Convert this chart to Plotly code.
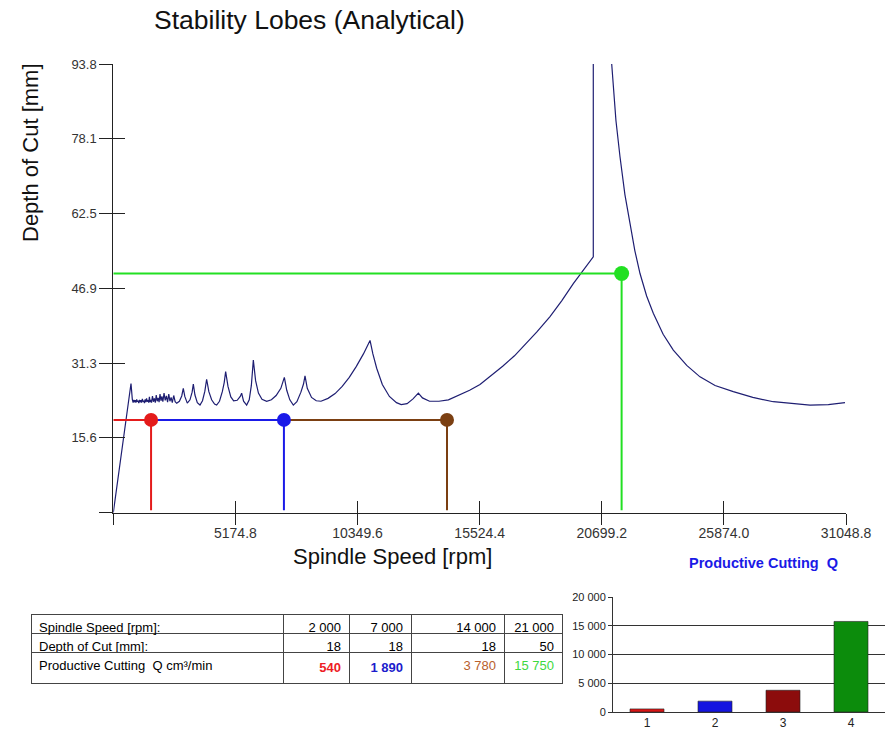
import plotly.graph_objects as go

# ---------------- data ----------------
# stability lobe boundary: spindle speed [rpm] / limiting depth of cut [mm]
lobe_speed = [0, 750, 806,
              840, 870, 900, 930, 960, 990, 1020, 1050, 1080, 1110, 1140, 1170, 1200,
              1230, 1260, 1290, 1320, 1350, 1380, 1410, 1440, 1470, 1500, 1530, 1560,
              1590, 1620, 1660, 1700, 1740, 1780, 1820, 1860, 1900, 1940, 1980, 2020,
              2060, 2100, 2150, 2200, 2250, 2300, 2350, 2400, 2450, 2500, 2560, 2620,
              2686, 2800, 2900, 2966, 3030, 3135, 3250, 3340, 3391, 3460, 3560, 3673,
              3780, 3880, 3955, 4050, 4167, 4290, 4379, 4500, 4620, 4700, 4761, 4860,
              4980, 5100, 5250, 5380, 5439, 5520, 5651, 5760, 5850, 5934, 6030, 6150,
              6300, 6500, 6700, 6900, 7100, 7248, 7350, 7480, 7629, 7780, 7950, 8060,
              8124, 8220, 8400, 8600, 8800, 9100, 9400, 9700, 10000, 10300, 10600,
              10879, 11000, 11161, 11400, 11700, 12000, 12200, 12450, 12700, 12927,
              13100, 13400, 13800, 14200, 14692, 15100, 15539, 15963, 16500, 17000,
              17374, 17950, 18506, 19000, 19493, 19950, 20340, 20340,
              None,
              21120, 21300, 21472, 21680, 21896, 22100, 22320, 22600, 22883, 23300,
              23731, 24300, 24862, 25500, 26273, 27100, 27968, 28700, 29523, 30300, 31007]
lobe_depth = [0, 27.0, 23.7,
              23.0, 23.6, 23.1, 23.5, 23.0, 23.7, 23.2, 23.4, 22.9, 23.6, 23.1, 23.5, 23.0,
              23.8, 23.2, 23.4, 22.9, 23.7, 23.1, 23.9, 23.2, 23.5, 23.0, 24.2, 23.1,
              23.6, 23.0, 24.4, 23.2, 23.9, 23.0, 24.6, 23.3, 24.0, 23.1, 24.8, 23.4,
              24.3, 23.2, 25.0, 23.5, 24.4, 23.1, 24.8, 23.3, 24.1, 23.0, 24.5, 23.2,
              22.9, 23.3, 24.4, 26.0, 24.3, 22.9, 23.6, 25.2, 26.9, 24.6, 23.0, 22.5,
              23.4, 25.4, 27.9, 25.3, 23.6, 22.7, 22.5, 23.3, 25.3, 27.2, 29.5, 26.4,
              24.2, 23.4, 23.5, 24.3, 25.0, 23.3, 22.5, 23.6, 26.6, 31.9, 27.6, 25.0,
              23.7, 23.3, 23.6, 24.5, 26.0, 28.3, 25.6, 23.6, 22.5, 23.2, 25.2, 26.9,
              28.6, 26.0, 24.1, 23.4, 23.3, 23.9, 24.9, 26.4, 28.3, 30.6, 33.2,
              36.0, 33.2, 30.2, 26.8, 24.3, 23.0, 22.6, 22.8, 23.8, 25.0,
              24.0, 23.3, 23.3, 23.6, 24.6, 25.6, 26.8, 28.4, 30.6, 32.8,
              34.7, 37.8, 41.0, 44.3, 47.9, 50.8, 53.5, 93.8,
              None,
              93.8, 82.0, 74.4, 66.5, 60.5, 54.8, 50.0, 45.3, 41.7, 37.3,
              34.0, 30.8, 28.4, 26.6, 25.3, 24.1, 23.2, 22.8, 22.5, 22.6, 23.0]

# selected operating points as drawn on the chart
op_speed = [1600, 7230, 14140, 21540]
op_depth = [19.4, 19.4, 19.4, 50.0]
op_colors = ["#e41b1b", "#1a1ae8", "#7b3f12", "#22e022"]

# axis ticks
x_tick_vals = [0, 5174.8, 10349.6, 15524.4, 20699.2, 25874.0, 31048.8]
x_tick_text = ["", "5174.8", "10349.6", "15524.4", "20699.2", "25874.0", "31048.8"]
y_tick_vals = [0, 15.6333, 31.2667, 46.9, 62.5333, 78.1667, 93.8]
y_tick_text = ["", "15.6", "31.3", "46.9", "62.5", "78.1", "93.8"]

# table
NB = "\u00a0"
tbl_labels = ["Spindle Speed [rpm]:", "Depth of Cut [mm]:", "Productive Cutting  Q cm³/min"]
tbl_speed = ["2 000", "7 000", "14 000", "21 000"]
tbl_depth = ["18", "18", "18", "50"]
tbl_q = ["540", "1 890", "3 780", "15 750"]
tbl_q_bold = [True, True, False, False]
tbl_q_colors = ["#ee1c24", "#1c1ccc", "#b8602c", "#3ed83e"]

# productive cutting bar chart
bar_cat = [1, 2, 3, 4]
bar_q = [540, 1890, 3780, 15750]
bar_colors = ["#d81414", "#1414e0", "#8c0c0c", "#0c8c0c"]
bar_tick_vals = [0, 5000, 10000, 15000, 20000]
bar_tick_text = ["0", "5 000", "10 000", "15 000", "20 000"]

# ---------------- figure ----------------
W, H = 885, 735
FONT = "Liberation Sans, Arial, sans-serif"


def nb(s):
    return s.replace(" ", NB)


fig = go.Figure()

fig.add_trace(go.Scatter(x=lobe_speed, y=lobe_depth, mode="lines",
                         line=dict(color="#1e1e72", width=1.2), hoverinfo="skip"))

starts = [0, op_speed[0], op_speed[1], 0]
for i in range(len(op_speed)):
    c = op_colors[i]
    fig.add_trace(go.Scatter(x=[starts[i], op_speed[i]], y=[op_depth[i], op_depth[i]],
                             mode="lines", line=dict(color=c, width=2), hoverinfo="skip"))
    fig.add_trace(go.Scatter(x=[op_speed[i], op_speed[i]], y=[op_depth[i], 0.5],
                             mode="lines", line=dict(color=c, width=2), hoverinfo="skip"))
for i in range(len(op_speed)):
    fig.add_trace(go.Scatter(x=[op_speed[i]], y=[op_depth[i]], mode="markers",
                             marker=dict(color=op_colors[i], size=14 if i < 3 else 15),
                             hoverinfo="skip"))

# overlay axis only for inward tick halves
fig.add_trace(go.Scatter(x=[None], y=[None], xaxis="x2", yaxis="y2", hoverinfo="skip"))

# table
q_cells = [("<b>%s</b>" % nb(v)) if b else nb(v) for v, b in zip(tbl_q, tbl_q_bold)]
fig.add_trace(go.Table(
    domain=dict(x=[31 / W, 562 / W], y=[1 - 690 / H, 1 - 614 / H]),
    columnwidth=[252, 66, 62, 93, 58],
    header=dict(values=[tbl_labels[0]] + [nb(s) for s in tbl_speed],
                align=["left", "right", "right", "right", "right"],
                line=dict(color="#444", width=1), fill=dict(color="white"),
                font=dict(family=FONT, size=13, color="black"), height=19),
    cells=dict(values=[[tbl_labels[1], tbl_labels[2]]] +
               [[tbl_depth[k], q_cells[k]] for k in range(4)],
               align=["left", "right", "right", "right", "right"],
               line=dict(color="#444", width=1), fill=dict(color="white"),
               font=dict(family=FONT, size=13,
                         color=[["black", "black"]] + [["black", tbl_q_colors[k]] for k in range(4)]),
               height=19)))

# bar chart
fig.add_trace(go.Bar(x=bar_cat, y=bar_q, marker=dict(color=bar_colors, line=dict(color="#222", width=0.6)),
                     width=0.5, xaxis="x3", yaxis="y3", hoverinfo="skip"))
fig.add_trace(go.Scatter(x=[None], y=[None], xaxis="x3", yaxis="y4", hoverinfo="skip"))

xd = [113.3 / W, 846 / W]
yd = [1 - 512.7 / H, 1 - 64 / H]
axcol = "#222"
fig.update_layout(
    width=W, height=H, margin=dict(l=0, r=0, t=0, b=0, pad=0, autoexpand=False), autosize=False,
    paper_bgcolor="white", plot_bgcolor="white", showlegend=False,
    font=dict(family=FONT, color="#222"),
    xaxis=dict(domain=xd, range=[0, 31048.8], tickvals=x_tick_vals, ticktext=x_tick_text,
               ticks="outside", ticklen=11, tickwidth=1, tickcolor=axcol, automargin=False,
               ticklabelstandoff=-4,
               showline=True, linecolor=axcol, linewidth=1, showgrid=False, zeroline=False,
               tickfont=dict(size=14, color="#333"), anchor="y"),
    yaxis=dict(domain=yd, range=[0, 93.8], tickvals=y_tick_vals, ticktext=y_tick_text,
               ticks="outside", ticklen=13, tickwidth=1, tickcolor=axcol, automargin=False,
               showline=True, linecolor=axcol, linewidth=1, showgrid=False, zeroline=False,
               tickfont=dict(size=13, color="#333"), anchor="x"),
    xaxis2=dict(overlaying="x", range=[0, 31048.8], tickvals=x_tick_vals, ticks="inside",
                ticklen=12, tickwidth=1, tickcolor=axcol, showticklabels=False, automargin=False,
                showline=False, showgrid=False, zeroline=False, anchor="y", side="bottom"),
    yaxis2=dict(overlaying="y", range=[0, 93.8], tickvals=y_tick_vals, ticks="inside",
                ticklen=12, tickwidth=1, tickcolor=axcol, showticklabels=False, automargin=False,
                showline=False, showgrid=False, zeroline=False, anchor="x", side="left"),
    xaxis3=dict(domain=[613 / W, 1.0], range=[0.5, 4.5], tickvals=bar_cat, automargin=False,
                ticks="", showline=True, linecolor="#333", linewidth=1, showgrid=False,
                zeroline=False, tickfont=dict(size=12, color="#222"), anchor="y3"),
    yaxis3=dict(domain=[1 - 712 / H, 1 - 597 / H], range=[0, 20000], tickvals=bar_tick_vals,
                ticktext=bar_tick_text, ticks="outside", ticklen=4, tickcolor="#333", automargin=False,
                showline=True, linecolor="#333", linewidth=1, showgrid=False, zeroline=False,
                tickfont=dict(size=11, color="#222"), anchor="x3"),
    yaxis4=dict(overlaying="y3", range=[0, 20000], tickvals=[5000, 10000, 15000], automargin=False,
                showticklabels=False, ticks="", showgrid=True, gridcolor="#333", gridwidth=1,
                showline=False, zeroline=False, anchor="x3"),
    annotations=[
        dict(text="Stability Lobes (Analytical)", x=309 / W, y=1 - 20 / H, xref="paper", yref="paper",
             showarrow=False, xanchor="center", yanchor="middle",
             font=dict(size=26.5, color="#111", family=FONT)),
        dict(text="Depth of Cut [mm]", x=30 / W, y=1 - 153 / H, xref="paper", yref="paper",
             showarrow=False, xanchor="center", yanchor="middle", textangle=-90,
             font=dict(size=22, color="#111", family=FONT)),
        dict(text="Spindle Speed [rpm]", x=392 / W, y=1 - 556 / H, xref="paper", yref="paper",
             showarrow=False, xanchor="center", yanchor="middle",
             font=dict(size=22, color="#111", family=FONT)),
        dict(text="<b>Productive Cutting  Q</b>", x=763 / W, y=1 - 563 / H, xref="paper", yref="paper",
             showarrow=False, xanchor="center", yanchor="middle",
             font=dict(size=14.5, color="#1a1ae6", family=FONT)),
    ],
)

fig.write_html(
    "out.html",
    config={"displayModeBar": False, "responsive": False},
    post_script=("document.body.style.margin='0';"
                 "document.body.style.overflow='hidden';"
                 "document.documentElement.style.overflow='hidden';"),
)
